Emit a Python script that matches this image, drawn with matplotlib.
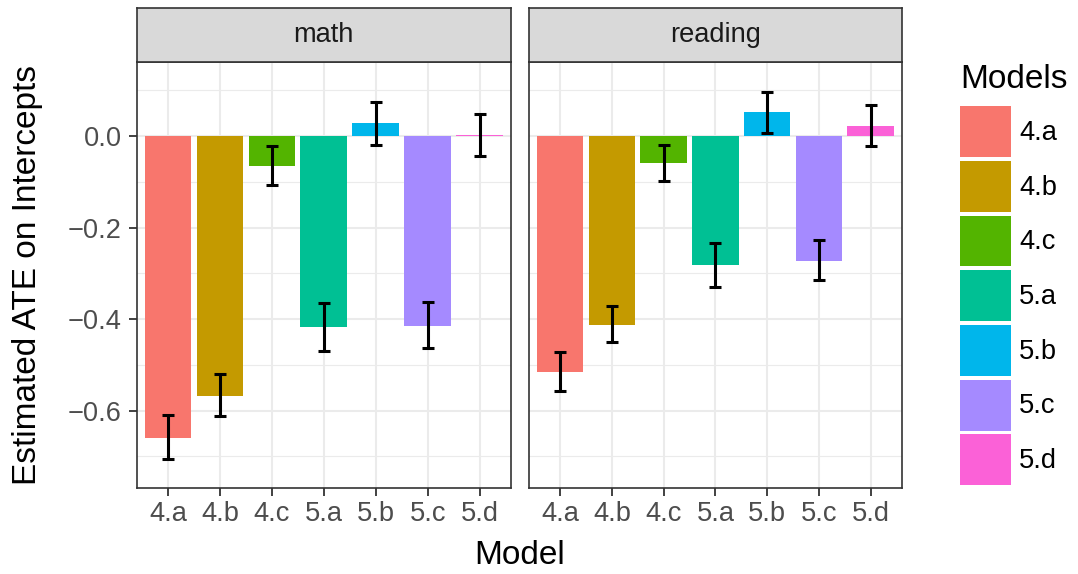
"""Faceted bar chart: estimated ATE on intercepts by model, math vs reading."""
import matplotlib

matplotlib.use("Agg")
import matplotlib.pyplot as plt
from matplotlib.patches import Patch
from matplotlib.ticker import MultipleLocator

plt.rcParams["font.family"] = ["Liberation Sans", "DejaVu Sans"]

MODELS = ["4.a", "4.b", "4.c", "5.a", "5.b", "5.c", "5.d"]
COLORS = ["#F8766D", "#C49A00", "#53B400", "#00C094", "#00B6EB", "#A58AFF", "#FB61D7"]
SUBJECTS = ["math", "reading"]

MATH_EST = [-0.659, -0.567, -0.066, -0.418, 0.028, -0.414, 0.002]
MATH_LO = [-0.706, -0.611, -0.107, -0.469, -0.020, -0.462, -0.044]
MATH_HI = [-0.609, -0.520, -0.022, -0.365, 0.075, -0.363, 0.049]

READ_EST = [-0.515, -0.412, -0.059, -0.282, 0.052, -0.272, 0.023]
READ_LO = [-0.556, -0.450, -0.098, -0.330, 0.007, -0.314, -0.021]
READ_HI = [-0.471, -0.371, -0.019, -0.234, 0.096, -0.226, 0.067]

YTICKS = [0.0, -0.2, -0.4, -0.6]

W, H = 1078, 574
fig = plt.figure(figsize=(W / 100, H / 100), dpi=100)

BASE = 24
SMALL = 19.6
EDGE = "#333333"

panels = [(137, 510.7), (529, 901.7)]
series = [(MATH_EST, MATH_LO, MATH_HI), (READ_EST, READ_LO, READ_HI)]
pan_top, pan_bot = 62, 488
strip_top = 8

x = list(range(1, len(MODELS) + 1))
for i, ((x0, x1), (est, lo, hi)) in enumerate(zip(panels, series)):
    ax = fig.add_axes([x0 / W, 1 - pan_bot / H, (x1 - x0) / W, (pan_bot - pan_top) / H])
    ax.set_axisbelow(True)
    ax.bar(x, est, width=0.9, color=COLORS, zorder=2)
    yerr = [[e - l for e, l in zip(est, lo)], [h - e for e, h in zip(est, hi)]]
    ax.errorbar(x, est, yerr=yerr, fmt="none", ecolor="black", elinewidth=2.2,
                capsize=4, capthick=2.2, zorder=3)
    ax.set_xlim(0.4, 7.6)
    ax.set_ylim(-0.769, 0.162)
    ax.set_xticks(x)
    ax.set_xticklabels(MODELS)
    ax.set_yticks(YTICKS)
    ax.yaxis.set_minor_locator(MultipleLocator(0.1))
    ax.grid(True, which="major", color="#EBEBEB", lw=1.5)
    ax.grid(True, which="minor", axis="y", color="#EBEBEB", lw=0.8)
    ax.tick_params(which="minor", length=0)
    ax.tick_params(which="major", length=5.5, width=1.3, color=EDGE,
                   labelsize=SMALL, labelcolor="#4D4D4D")
    ax.tick_params(axis="x", pad=4)
    ax.tick_params(axis="y", pad=5.5)
    for s in ax.spines.values():
        s.set_color(EDGE)
        s.set_linewidth(1.2)
    if i == 0:
        ax.set_yticklabels([f"{v:.1f}".replace("-", "\u2212") for v in YTICKS])
        ax.set_ylabel("Estimated ATE on Intercepts", fontsize=BASE, labelpad=18)
    else:
        ax.tick_params(axis="y", labelleft=False, length=0)

    # facet strip
    sax = fig.add_axes([x0 / W, 1 - pan_top / H, (x1 - x0) / W, (pan_top - strip_top) / H])
    sax.set_facecolor("#D9D9D9")
    sax.set_xticks([])
    sax.set_yticks([])
    for s in sax.spines.values():
        s.set_color(EDGE)
        s.set_linewidth(1.2)
    sax.text(0.5, 0.5, SUBJECTS[i], ha="center", va="center",
             fontsize=SMALL, color="#1A1A1A", transform=sax.transAxes)

fig.text((137 + 901.7) / 2 / W, 1 - 556 / H, "Model", ha="center", va="center",
         fontsize=BASE)

handles = [Patch(facecolor=c, edgecolor="none") for c in COLORS]
leg = fig.legend(handles, MODELS, loc="upper left", bbox_to_anchor=(960 / W, 1 - 64 / H),
                 frameon=False, fontsize=SMALL, title="Models", title_fontsize=BASE,
                 handlelength=1.875, handleheight=2.5, labelspacing=0.14,
                 handletextpad=0.3, borderpad=0, borderaxespad=0, alignment="left")
leg._legend_box.sep = 8  # a bit more room between title and keys, as in ggplot

fig.savefig("out.png", dpi=100)
